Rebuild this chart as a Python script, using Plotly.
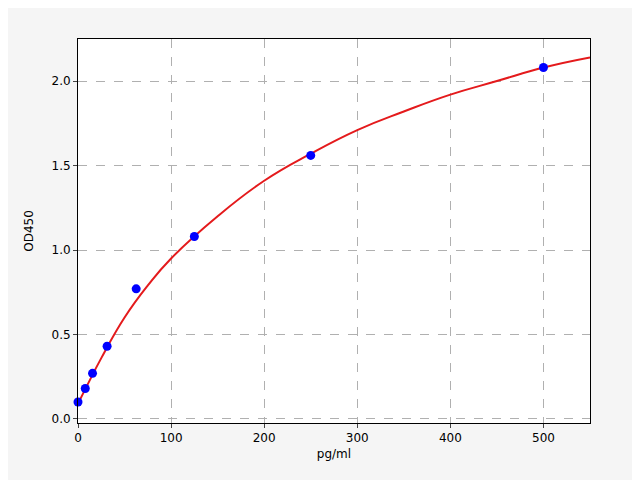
import plotly.graph_objects as go

conc = [0, 7.8, 15.6, 31.25, 62.5, 125, 250, 500]
od = [0.10, 0.18, 0.27, 0.43, 0.77, 1.08, 1.56, 2.08]
curve_x = [0, 10, 25, 50, 75, 100, 150, 200, 250, 300, 350, 400, 450, 500, 550]
curve_y = [0.09, 0.20, 0.36, 0.60, 0.79, 0.95, 1.20, 1.41, 1.57, 1.71, 1.82, 1.92, 2.00, 2.08, 2.14]

fig = go.Figure()
fig.add_trace(go.Scatter(x=curve_x, y=curve_y, mode="lines", line=dict(color="#e41a1c", width=2, shape="spline", smoothing=1.3), showlegend=False))
fig.add_trace(go.Scatter(x=conc, y=od, mode="markers", marker=dict(color="#0000ff", size=9), showlegend=False, cliponaxis=False))
ax = dict(showline=True, mirror=True, linecolor="black", linewidth=1, ticks="outside", ticklen=4,
          gridcolor="#b0b0b0", griddash="dash", zeroline=False, tickfont=dict(size=12, color="black"))
fig.update_layout(width=640, height=480, paper_bgcolor="#f5f5f5", plot_bgcolor="white",
                  margin=dict(l=70, r=58, t=31, b=65), font=dict(family="DejaVu Sans", color="black"),
                  xaxis=dict(range=[0, 550], dtick=100, title=dict(text="pg/ml", font=dict(size=12), standoff=5), **ax),
                  yaxis=dict(range=[-0.024, 2.249], dtick=0.5, tickformat=".1f", title=dict(text="OD450", font=dict(size=12)), **ax))
fig.write_html("out.html")
